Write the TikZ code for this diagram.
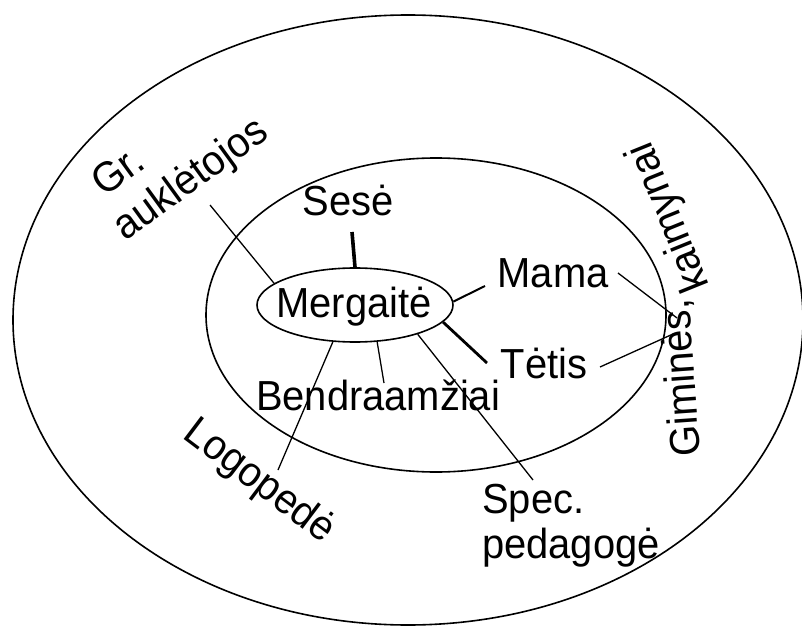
\documentclass[tikz,border=0pt]{standalone}
\usepackage{fontspec}
\setmainfont{Liberation Sans}[FakeStretch=0.95]
\usetikzlibrary{shapes.geometric}
\begin{document}
\begin{tikzpicture}[x=1pt,y=-1pt,
  lbl/.style={font=\fontsize{42}{46}\selectfont, inner sep=0pt},
  ring/.style={draw, line width=1.6pt},
  thinc/.style={line width=1.3pt},
  midc/.style={line width=2pt},
  thickc/.style={line width=2.8pt},
  thickerc/.style={line width=3.6pt},
]
\useasboundingbox (0,0) rectangle (802,628);
\draw[ring] (408,320) ellipse [x radius=395pt, y radius=305pt];
\draw[ring] (436,315) ellipse [x radius=230pt, y radius=157pt];
\node[ellipse, ring, minimum width=196pt, minimum height=74pt, inner sep=0pt] (m) at (355,305) {};

\node[lbl, anchor=base] (mt) at (354,317) {Mergaitė};
\node[lbl, anchor=base] (ses) at (348,215) {Sesė};
\node[lbl, anchor=base] (mam) at (553,287) {Mama};
\node[lbl, anchor=base] (tet) at (544,378) {Tėtis};
\node[lbl, anchor=base] (ben) at (378,410) {Bendraamžiai};
\node[lbl, anchor=base west] (spec) at (482,513) {Spec.};
\node[lbl, anchor=base west] (ped) at (482,558) {pedagogė};
\node[lbl, anchor=base west, rotate=36] (gr) at (104,198) {Gr.};
\node[lbl, anchor=base west, rotate=36] (auk) at (125,242) {auklėtojos};
\node[lbl, rotate=-37] (log) at (259,482) {Logopedė};
\node[lbl, rotate=94] (gim) at (682,378) {Giminės,};
\node[lbl, rotate=112] (kai) at (670,217) {kaimynai};

\coordinate (gE) at (210,205);
\coordinate (sE) at (352,232);
\coordinate (mE) at (485,286);
\coordinate (tE) at (487,363);
\coordinate (bE) at (384,383);
\coordinate (lE) at (278,470);
\coordinate (pE) at (533,480);
\coordinate (mg1) at (618,273);
\coordinate (mg2) at (677,318);
\coordinate (tg1) at (600,367);
\coordinate (tg2) at (673,334);

\draw[thinc] (gE) -- (m.165);
\draw[thickerc] (sE) -- (m.90);
\draw[midc] (m.2) -- (mE);
\draw[thickc] (m.-11) -- (tE);
\draw[thinc] (m.-59) -- (bE);
\draw[thinc] (m.-121) -- (lE);
\draw[thinc] (m.-25) -- (pE);
\draw[thinc] (mg1) -- (mg2);
\draw[thinc] (tg1) -- (tg2);
\end{tikzpicture}
\end{document}
